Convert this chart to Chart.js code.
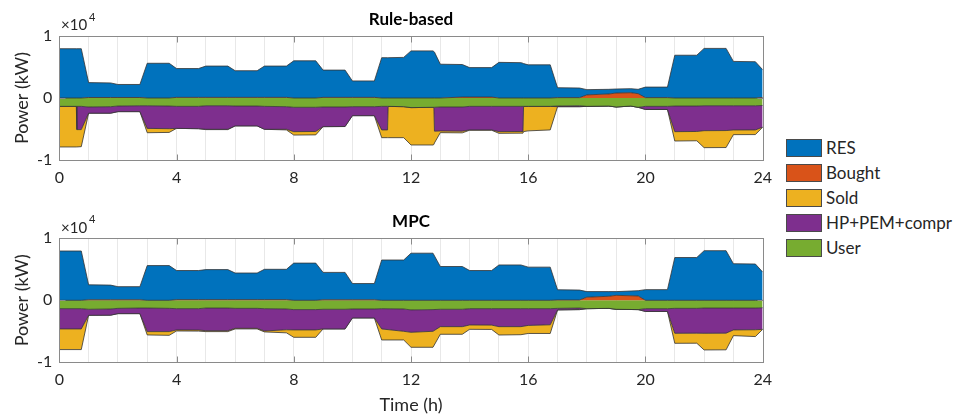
<!DOCTYPE html>
<html>
<head>
<meta charset="utf-8">
<script src="https://cdn.jsdelivr.net/npm/chart.js@4.4.0/dist/chart.umd.min.js"></script>
<style>
  body { margin: 0; background: #fff; font-family: Lato, "Open Sans", sans-serif; }
  #wrap { position: relative; width: 954px; height: 416px; overflow: hidden; }
  canvas { position: absolute; left: 0; }
  #legend { position: absolute; left: 786px; top: 135px; }
  .item { display: flex; align-items: center; height: 25px; font-size: 17px; color: #262626; white-space: nowrap; }
  .sw { width: 36px; height: 18px; box-sizing: border-box; border: 1px solid #4a4a4a; margin-right: 4px; }
</style>
</head>
<body>
<div id="wrap">
  <canvas id="rb" width="780" height="200" style="top:0"></canvas>
  <canvas id="mpc" width="780" height="216" style="top:200px"></canvas>
  <div id="legend"></div>
</div>
<script>
// time (h), rule-based run
const tRB = [0, 0.58, 0.6, 0.75,
  1, 1.75, 2, 2.75, 3, 3.75, 4, 4.75,
  5, 5.75, 6, 6.75, 7, 7.75, 8, 8.75,
  9, 9.75, 10, 10.75, 11, 11.2, 11.22, 11.75,
  12, 12.75, 12.78, 12.8, 13, 13.75, 14, 14.75,
  15, 15.75, 15.82, 15.84, 16, 16.75, 17, 17.75,
  18, 18.75, 19, 19.5, 19.75, 20, 20.75, 21,
  21.75, 22, 22.75, 23, 23.75, 24];
const resRB = [7950, 7950, 7950, 7950,
  2400, 2350, 2100, 2100, 5600, 5600, 4650, 4650,
  5050, 5050, 4300, 4300, 5050, 5050, 6000, 6000,
  4400, 4400, 2650, 2650, 6500, 6500, 6500, 6550,
  7600, 7600, 7500, 7400, 5450, 5250, 4750, 4750,
  5750, 5700, 5600, 5550, 5350, 5350, 1600, 1550,
  850, 750, 650, 650, 700, 1700, 1700, 6900,
  6900, 8000, 8000, 5900, 5850, 4480];
const boughtRB = [0, 0, 0, 0,
  80, 80, 80, 80, 0, 0, 100, 100,
  100, 100, 100, 100, 100, 100, 0, 0,
  100, 100, 100, 100, 0, 0, 0, 0,
  0, 0, 0, 0, 0, 150, 150, 150,
  0, 0, 0, 0, 0, 0, 60, 60,
  500, 650, 800, 850, 700, 60, 60, 0,
  0, 0, 0, 0, 0, 80];
const soldRB = [-6550, -6550, -2800, -2750,
  0, 0, 0, 0, -700, -600, 0, 0,
  -50, -50, 0, 0, 0, -100, -550, -550,
  0, 0, 0, 0, -1250, -1250, -5050, -5000,
  -6030, -6080, -6000, -1900, -270, -270, -50, -50,
  -270, -270, -270, -4070, -3950, -3800, 0, 0,
  0, 0, 0, 0, 0, 0, 0, -1510,
  -1500, -2740, -2740, -750, -750, 0];
const hpRB = [0, 0, -3750, -3750,
  -1000, -1050, -900, -950, -3650, -3650, -3550, -3600,
  -3800, -3800, -3200, -3200, -3700, -3650, -3930, -3900,
  -3170, -3150, -1450, -1450, -3800, -3800, 0, 0,
  0, 0, 0, -3850, -3870, -3900, -3800, -3800,
  -4080, -4050, -4050, 0, 0, 0, -100, -150,
  0, 0, 0, 0, 0, -500, -500, -4130,
  -4100, -4020, -4000, -3910, -3900, -3500];
const userRB = [-1350, -1350, -1350, -1350,
  -1450, -1400, -1300, -1250, -1250, -1300, -1350, -1350,
  -1250, -1250, -1300, -1300, -1350, -1400, -1500, -1500,
  -1450, -1450, -1400, -1400, -1350, -1350, -1350, -1400,
  -1550, -1500, -1500, -1500, -1450, -1450, -1350, -1350,
  -1350, -1350, -1350, -1350, -1350, -1350, -1300, -1250,
  -1350, -1300, -1450, -1300, -1500, -1350, -1350, -1300,
  -1300, -1250, -1250, -1250, -1250, -1200];

// time (h), MPC run
const tMPC = [0, 0.75, 1, 1.75, 2, 2.75, 3, 3.75,
  4, 4.75, 5, 5.75, 6, 6.75, 7, 7.75,
  8, 8.75, 9, 9.75, 10, 10.75, 11, 11.75,
  12, 12.75, 13, 13.75, 14, 14.75, 15, 15.75,
  16, 16.75, 17, 17.75, 18, 18.75, 19, 19.75,
  20, 20.75, 21, 21.75, 22, 22.75, 23, 23.75,
  24];
const resMPC = [7950, 7950, 2420, 2370, 2120, 2120, 5600, 5600,
  4700, 4700, 4850, 4850, 4300, 4300, 4900, 4900,
  6000, 6000, 4420, 4420, 2620, 2620, 6500, 6500,
  7600, 7600, 5450, 5450, 4800, 4800, 5700, 5700,
  5350, 5350, 1650, 1600, 900, 750, 600, 850,
  1720, 1720, 6900, 6900, 8000, 8000, 5900, 5850,
  4550];
const boughtMPC = [0, 0, 80, 80, 80, 80, 0, 0,
  100, 100, 100, 100, 100, 100, 100, 100,
  0, 0, 80, 80, 80, 80, 0, 0,
  0, 0, 0, 0, 0, 0, 0, 0,
  0, 0, 50, 50, 500, 650, 800, 700,
  0, 0, 0, 0, 0, 0, 0, 0,
  0];
const soldMPC = [-3330, -3330, 0, 0, 0, 0, -540, -600,
  -170, -170, -150, -150, -100, -100, -150, -500,
  -1190, -1190, 0, 0, 0, 0, -1780, -1400,
  -2420, -2580, -1230, -1230, -700, -700, -1350, -1300,
  -1300, -1400, 0, 0, 0, 0, 0, 0,
  0, 0, -1620, -1620, -2690, -2690, -920, -1100,
  0];
const hpMPC = [-3270, -3270, -970, -1000, -850, -900, -3800, -3750,
  -3430, -3450, -3650, -3650, -3220, -3220, -3600, -3350,
  -3280, -3280, -3170, -3170, -1450, -1450, -3270, -3600,
  -3610, -3500, -2800, -2800, -2630, -2650, -2900, -2900,
  -2700, -2600, -250, -250, 0, 0, 0, 0,
  -450, -450, -4020, -4000, -4070, -4050, -3530, -3500,
  -3480];
const userMPC = [-1350, -1350, -1450, -1400, -1300, -1250, -1250, -1300,
  -1350, -1350, -1250, -1250, -1300, -1300, -1350, -1400,
  -1500, -1500, -1450, -1450, -1400, -1400, -1350, -1400,
  -1550, -1500, -1450, -1450, -1350, -1350, -1350, -1350,
  -1350, -1350, -1300, -1250, -1350, -1300, -1450, -1500,
  -1350, -1350, -1300, -1300, -1250, -1250, -1250, -1250,
  -1200];

const xLabels = [0, 4, 8, 12, 16, 20, 24];
const legendNames = ['RES', 'Bought', 'Sold', 'HP+PEM+compr', 'User'];
const colors = {
  'RES': '#0072BD',
  'Bought': '#D95319',
  'Sold': '#EDB120',
  'HP+PEM+compr': '#7E2F8E',
  'User': '#77AC30'
};

const FONT = 'Lato, "Open Sans", sans-serif';
const INK = '#262626';

function pts(t, v) {
  return t.map((x, i) => ({ x: x, y: v[i] }));
}

// supply stacked above zero, demand stacked below zero
function makeSets(t, res, bought, sold, hp, user) {
  const base = { borderColor: '#333', borderWidth: 0.8, pointRadius: 0, tension: 0 };
  return [
    Object.assign({ label: 'Bought', data: pts(t, bought), stack: 'pos', fill: 'origin', backgroundColor: colors['Bought'] }, base),
    Object.assign({ label: 'RES', data: pts(t, res), stack: 'pos', fill: '-1', backgroundColor: colors['RES'] }, base),
    Object.assign({ label: 'User', data: pts(t, user), stack: 'neg', fill: 'origin', backgroundColor: colors['User'] }, base),
    Object.assign({ label: 'HP+PEM+compr', data: pts(t, hp), stack: 'neg', fill: '-1', backgroundColor: colors['HP+PEM+compr'] }, base),
    Object.assign({ label: 'Sold', data: pts(t, sold), stack: 'neg', fill: '-1', backgroundColor: colors['Sold'] }, base)
  ];
}

// box, inward ticks, title, exponent and axis labels (matlab look)
const decor = {
  id: 'decor',
  afterDatasetsDraw(chart, args, o) {
    const ctx = chart.ctx, a = chart.chartArea;
    const xs = chart.scales.x, ys = chart.scales.y;
    ctx.save();
    ctx.strokeStyle = '#8a8a8a';
    ctx.lineWidth = 1;
    const L = Math.round(a.left) + 0.5, T = Math.round(a.top) + 0.5;
    const R = Math.round(a.right) + 0.5, B = Math.round(a.bottom) + 0.5;
    ctx.strokeRect(L, T, R - L, B - T);
    ctx.beginPath();
    xLabels.forEach(h => {
      if (h === 0 || h === 24) return;
      const px = Math.round(xs.getPixelForValue(h)) + 0.5;
      ctx.moveTo(px, B); ctx.lineTo(px, B - 6);
      ctx.moveTo(px, T); ctx.lineTo(px, T + 6);
    });
    const py = Math.round(ys.getPixelForValue(0)) + 0.5;
    ctx.moveTo(L, py); ctx.lineTo(L + 6, py);
    ctx.moveTo(R, py); ctx.lineTo(R - 6, py);
    ctx.stroke();

    ctx.fillStyle = '#000';
    ctx.textAlign = 'center';
    ctx.textBaseline = 'middle';
    ctx.font = 'bold 17px ' + FONT;
    ctx.fillText(o.title, (a.left + a.right) / 2, a.top - 16.5);

    ctx.fillStyle = INK;
    ctx.textAlign = 'left';
    ctx.font = '15px ' + FONT;
    ctx.fillText('\u00d710', 61, a.top - 10.5);
    const w = ctx.measureText('\u00d710').width;
    ctx.font = '11px ' + FONT;
    ctx.fillText('4', 61 + w + 2, a.top - 19);

    ctx.textAlign = 'center';
    ctx.font = '18px ' + FONT;
    ctx.save();
    ctx.translate(22, (a.top + a.bottom) / 2);
    ctx.rotate(-Math.PI / 2);
    ctx.fillText('Power (kW)', 0, 0);
    ctx.restore();
    if (o.xTitle) {
      ctx.fillText(o.xTitle, (a.left + a.right) / 2, a.bottom + 43);
    }
    ctx.restore();
  }
};

function makeChart(id, sets, padTop, xHeight, title, xTitle) {
  return new Chart(document.getElementById(id), {
    type: 'line',
    data: { datasets: sets },
    options: {
      responsive: false,
      animation: false,
      devicePixelRatio: 1,
      layout: { padding: { top: padTop, right: 16.7, left: 0, bottom: 0 } },
      plugins: {
        legend: { display: false },
        tooltip: { enabled: false },
        decor: { title: title, xTitle: xTitle }
      },
      scales: {
        x: {
          type: 'linear',
          min: 0,
          max: 24,
          afterFit: s => { s.height = xHeight; },
          ticks: {
            stepSize: 1,
            autoSkip: false,
            maxRotation: 0,
            padding: 8,
            color: INK,
            font: { family: FONT, size: 16 },
            callback: v => (xLabels.includes(v) ? v : '')
          },
          grid: {
            drawTicks: false,
            color: c => (c.tick && (c.tick.value === 0 || c.tick.value === 24)) ? 'rgba(0,0,0,0)' : '#e8e8e8'
          },
          border: { display: false }
        },
        y: {
          stacked: true,
          min: -10000,
          max: 10000,
          afterFit: s => { s.width = 59.3; },
          ticks: {
            stepSize: 10000,
            padding: 7,
            color: INK,
            font: { family: FONT, size: 16 },
            callback: v => v / 10000
          },
          grid: { display: false, drawTicks: false },
          border: { display: false }
        }
      }
    },
    plugins: [decor]
  });
}

makeChart('rb', makeSets(tRB, resRB, boughtRB, soldRB, hpRB, userRB), 36, 40, 'Rule-based', null);
makeChart('mpc', makeSets(tMPC, resMPC, boughtMPC, soldMPC, hpMPC, userMPC), 38.3, 53.7, 'MPC', 'Time (h)');

// shared legend on the right
const leg = document.getElementById('legend');
legendNames.forEach(n => {
  const row = document.createElement('div');
  row.className = 'item';
  const sw = document.createElement('div');
  sw.className = 'sw';
  sw.style.background = colors[n];
  const tx = document.createElement('span');
  tx.textContent = n;
  row.appendChild(sw);
  row.appendChild(tx);
  leg.appendChild(row);
});
</script>
</body>
</html>
